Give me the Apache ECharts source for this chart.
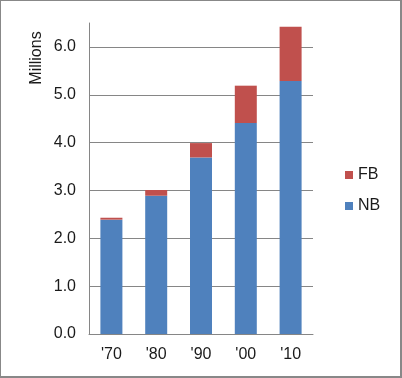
<!DOCTYPE html>
<html>
<head>
<meta charset="utf-8">
<script src="https://cdn.jsdelivr.net/npm/echarts@6/dist/echarts.min.js"></script>
<style>
html,body{margin:0;padding:0;background:#fff;}
#wrap{width:402px;height:378px;box-sizing:border-box;border-style:solid;border-color:#888;border-width:1px 2px 2px 1px;position:relative;overflow:hidden;}
#chart{position:absolute;left:-1px;top:-1px;width:402px;height:378px;}
</style>
</head>
<body>
<div id="wrap"><div id="chart"></div></div>
<script>
const categories = ["'70", "'80", "'90", "'00", "'10"];
const nbValues = [2.39, 2.89, 3.69, 4.41, 5.29];
const fbValues = [0.04, 0.12, 0.30, 0.78, 1.13];
const yTicks = [0, 1, 2, 3, 4, 5, 6];

const chart = echarts.init(document.getElementById('chart'), null, {renderer: 'canvas'});
const font = 'Liberation Sans, Arial, sans-serif';
chart.setOption({
  animation: false,
  textStyle: {fontFamily: font},
  grid: {left: 89, top: 23, width: 224, height: 311, containLabel: false},
  legend: {
    orient: 'vertical',
    left: 340,
    top: 162,
    itemWidth: 8,
    itemHeight: 8,
    itemGap: 15,
    icon: 'rect',
    data: ['FB', 'NB'],
    textStyle: {fontSize: 16, color: '#1a1a1a', fontFamily: font}
  },
  xAxis: {
    type: 'category',
    data: categories,
    axisLine: {lineStyle: {color: '#868686', width: 1}},
    axisTick: {show: false},
    axisLabel: {fontSize: 16, color: '#1a1a1a', margin: 13, fontFamily: font}
  },
  yAxis: {
    type: 'value',
    min: 0,
    max: 6.5,
    interval: 1,
    axisLine: {show: true, lineStyle: {color: '#868686', width: 1}},
    axisTick: {show: false},
    splitLine: {show: true, showMaxLine: false, lineStyle: {color: '#868686', width: 1}},
    axisLabel: {
      fontSize: 16, color: '#1a1a1a', margin: 13, fontFamily: font,
      showMaxLabel: false,
      formatter: v => yTicks.includes(v) ? v.toFixed(1) : ''
    }
  },
  graphic: [{
    type: 'text',
    x: 37,
    y: 58,
    rotation: Math.PI / 2,
    style: {text: 'Millions', font: '16px ' + font, fill: '#1a1a1a', textAlign: 'center', textVerticalAlign: 'middle'}
  }],
  series: [
    {name: 'NB', type: 'bar', stack: 'total', data: nbValues, barWidth: 22, itemStyle: {color: '#4F81BD'}},
    {name: 'FB', type: 'bar', stack: 'total', data: fbValues, barWidth: 22, itemStyle: {color: '#C0504D'}}
  ]
});
</script>
</body>
</html>
